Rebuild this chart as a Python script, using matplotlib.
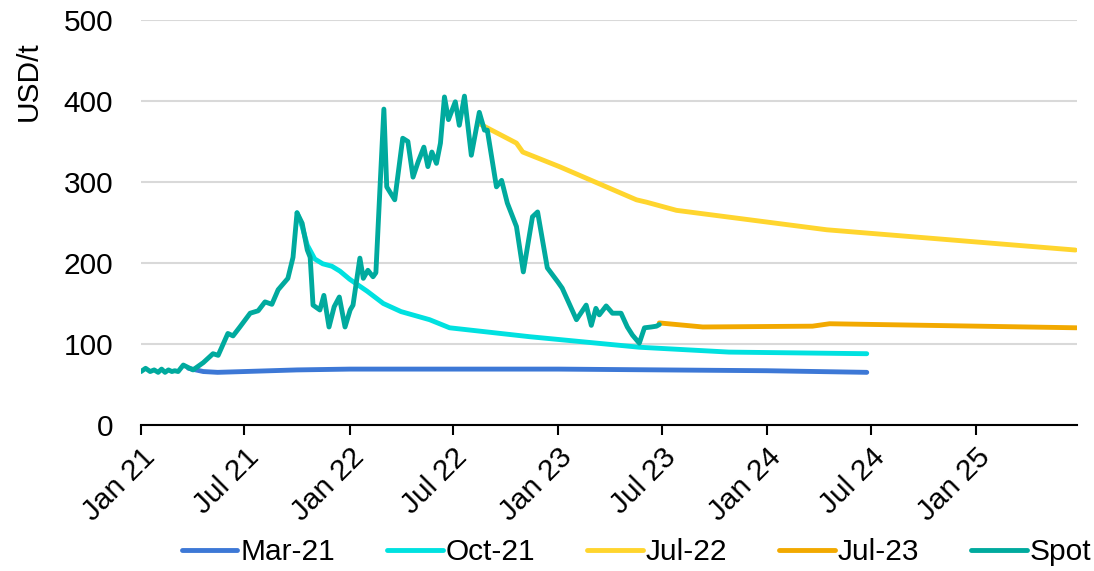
import matplotlib
matplotlib.use("Agg")
import matplotlib.pyplot as plt
import matplotlib.dates as mdates
import pandas as pd

plt.rcParams.update({
    "font.family": ["Liberation Sans", "DejaVu Sans"],
    "font.size": 21.5,
})

# Spot price (USD/t)
spot_dates = [
    "2021-01-01", "2021-01-09", "2021-01-17", "2021-01-24", "2021-01-31", "2021-02-06",
    "2021-02-12", "2021-02-18", "2021-02-24", "2021-03-01", "2021-03-07", "2021-03-16",
    "2021-04-02", "2021-04-20", "2021-05-07", "2021-05-16", "2021-06-02", "2021-06-11",
    "2021-06-23", "2021-07-11", "2021-07-25", "2021-08-06", "2021-08-18", "2021-08-29",
    "2021-09-15", "2021-09-24", "2021-10-01", "2021-10-10", "2021-10-19", "2021-10-24",
    "2021-10-29", "2021-11-10", "2021-11-17", "2021-11-26", "2021-12-05", "2021-12-14",
    "2021-12-24", "2022-01-02", "2022-01-07", "2022-01-19", "2022-01-25", "2022-02-02",
    "2022-02-11", "2022-02-16", "2022-02-23", "2022-03-02", "2022-03-07", "2022-03-21",
    "2022-04-04", "2022-04-13", "2022-04-22", "2022-05-01", "2022-05-11", "2022-05-18",
    "2022-05-25", "2022-06-02", "2022-06-09", "2022-06-16", "2022-06-23", "2022-07-05",
    "2022-07-12", "2022-07-21", "2022-08-02", "2022-08-16", "2022-08-25", "2022-08-30",
    "2022-09-15", "2022-09-24", "2022-10-04", "2022-10-20", "2022-11-01", "2022-11-17",
    "2022-11-26", "2022-12-13", "2022-12-31", "2023-01-08", "2023-02-02", "2023-02-19",
    "2023-02-28", "2023-03-08", "2023-03-14", "2023-03-26", "2023-04-06", "2023-04-21",
    "2023-05-02", "2023-05-11", "2023-05-23", "2023-06-01", "2023-06-13", "2023-06-22",
    "2023-06-27",
]
spot_values = [
    66, 70, 66, 68, 65, 69,
    65, 68, 66, 67, 66, 74,
    68, 77, 88, 86, 113, 110,
    121, 138, 141, 152, 149, 167,
    181, 207, 262, 249, 216, 207,
    148, 142, 160, 121, 146, 158,
    121, 142, 148, 206, 181, 191,
    183, 188, 290, 390, 294, 278,
    354, 350, 306, 325, 343, 319,
    337, 323, 348, 405, 377, 399,
    370, 406, 333, 386, 364, 364,
    294, 302, 274, 245, 189, 257,
    263, 194, 177, 169, 130, 148,
    123, 144, 136, 147, 138, 138,
    121, 111, 101, 120, 121, 122,
    124,
]

# Forward curves by pricing date
mar21_dates = ["2021-03-25", "2021-04-20", "2021-05-15", "2021-07-01", "2021-10-01",
               "2022-01-01", "2022-07-01", "2023-01-01", "2023-07-01", "2024-01-01",
               "2024-06-24"]
mar21_values = [70, 66, 65, 66, 68, 69, 69, 69, 68, 67, 65]

oct21_dates = ["2021-10-01", "2021-10-10", "2021-10-19", "2021-11-01", "2021-11-15",
               "2021-12-01", "2021-12-15", "2022-01-01", "2022-02-01", "2022-03-01",
               "2022-04-01", "2022-05-21", "2022-06-25", "2022-11-12", "2023-05-23",
               "2023-10-27", "2024-06-24"]
oct21_values = [262, 245, 222, 205, 199, 196, 190, 180, 165, 150, 140, 130, 120,
                109, 96, 90, 88]

jul22_dates = ["2022-08-13", "2022-10-20", "2022-10-31", "2023-01-03", "2023-05-18",
               "2023-06-05", "2023-07-27", "2024-04-15", "2025-06-24"]
jul22_values = [373, 348, 337, 319, 278, 275, 265, 241, 216]

jul23_dates = ["2023-06-27", "2023-09-11", "2024-03-21", "2024-04-20", "2025-06-26"]
jul23_values = [126, 121, 122, 125, 120]

series = [
    ("Mar-21", mar21_dates, mar21_values, "#3D78D6"),
    ("Oct-21", oct21_dates, oct21_values, "#00E1E0"),
    ("Jul-22", jul22_dates, jul22_values, "#FFD52E"),
    ("Jul-23", jul23_dates, jul23_values, "#F2A900"),
    ("Spot", spot_dates, spot_values, "#00AA9E"),
]

fig = plt.figure(figsize=(10.94, 5.71), dpi=100)
ax = fig.add_axes([0.1289, 0.2557, 0.8556, 0.7093])

for label, d, v, c in series:
    ax.plot(pd.to_datetime(d), v, color=c, linewidth=3.5, label=label,
            solid_capstyle="round", solid_joinstyle="round")

ax.set_ylim(0, 500)
ax.set_yticks(range(0, 501, 100))
ax.set_xlim(pd.Timestamp("2021-01-01"), pd.Timestamp("2025-06-27"))
ax.xaxis.set_major_locator(mdates.MonthLocator(bymonth=[1, 7]))
ax.xaxis.set_major_formatter(mdates.DateFormatter("%b %y"))
for lbl in ax.get_xticklabels():
    lbl.set_rotation(45)
    lbl.set_ha("right")
    lbl.set_rotation_mode("anchor")

ax.grid(axis="y", color="#D9D9D9", linewidth=1.5)
ax.set_axisbelow(True)
for s in ["top", "right", "left"]:
    ax.spines[s].set_visible(False)
ax.spines["bottom"].set_linewidth(1.5)
ax.spines["bottom"].set_zorder(5)
ax.tick_params(axis="y", length=0, pad=20)
ax.tick_params(axis="x", length=7, width=1.5, pad=6)

ax.set_ylabel("USD/t")
ax.yaxis.set_label_coords(-0.105, 0.85)

fig.legend(loc="center", bbox_to_anchor=(0.582, 0.033), ncol=5, frameon=False,
           handlelength=1.85, handletextpad=0.1, columnspacing=1.75)

fig.savefig("out.png", dpi=100)
